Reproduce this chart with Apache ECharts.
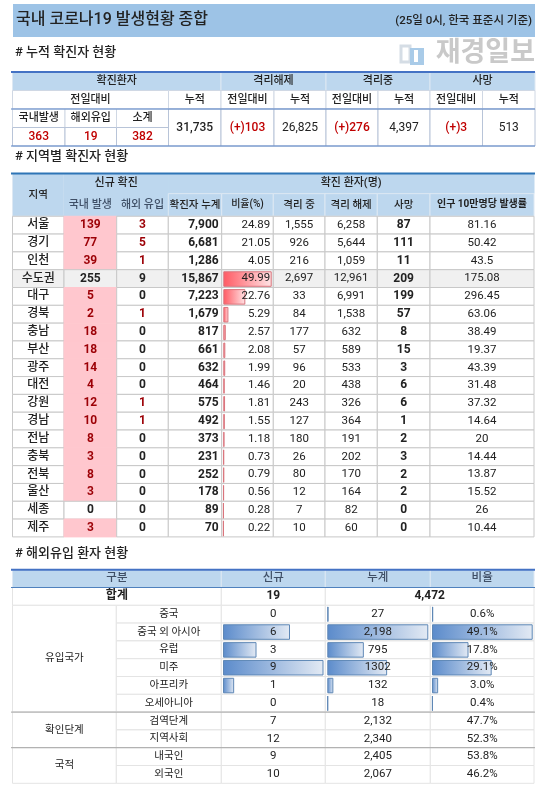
<!DOCTYPE html>
<html>
<head>
<meta charset="utf-8">
<style>html,body{margin:0;padding:0;background:#fff}#main{width:548px;height:789px}</style>
<script src="https://cdn.jsdelivr.net/npm/echarts@6/dist/echarts.min.js"></script>
</head>
<body>
<div id="main"></div>
<script>
// 누적 확진자
var sumHeader = ['확진환자', '격리해제', '격리중', '사망'];
var sumLocal = 363, sumImport = 19, sumSubtotal = 382;
var sumTotal = '31,735';
var sumChange = ['(+)103', '(+)276', '(+)3'];
var sumCumul = ['26,825', '4,397', '513'];

// 지역별
var regions = ['서울','경기','인천','수도권','대구','경북','충남','부산','광주','대전','강원','경남','전남','충북','전북','울산','세종','제주'];
var localCases = [139,77,39,255,5,2,18,18,14,4,12,10,8,3,8,3,0,3];
var importCases = [3,5,1,9,0,1,0,0,0,0,1,1,0,0,0,0,0,0];
var totalCases = ['7,900','6,681','1,286','15,867','7,223','1,679','817','661','632','464','575','492','373','231','252','178','89','70'];
var ratios = [24.89,21.05,4.05,49.99,22.76,5.29,2.57,2.08,1.99,1.46,1.81,1.55,1.18,0.73,0.79,0.56,0.28,0.22];
var isolating = ['1,555','926','216','2,697','33','84','177','57','96','20','243','127','180','26','80','12','7','10'];
var released = ['6,258','5,644','1,059','12,961','6,991','1,538','632','589','533','438','326','364','191','202','170','164','82','60'];
var deaths = [87,111,11,209,199,57,8,15,3,6,6,1,2,3,2,2,0,0];
var per100k = ['81.16','50.42','43.5','175.08','296.45','63.06','38.49','19.37','43.39','31.48','37.32','14.64','20','14.44','13.87','15.52','26','10.44'];
// 서울, 경기, 인천 행에는 막대가 없다
var ratioBarRegions = regions.slice(3);

// 해외유입
var abroadGroups = ['중국','중국 외 아시아','유럽','미주','아프리카','오세아니아','검역단계','지역사회','내국인','외국인'];
var abroadNew = [0,6,3,9,1,0,7,12,9,10];
var abroadCumul = [27,2198,795,1302,132,18,2132,2340,2405,2067];
var abroadCumulLabels = ['27','2,198','795','1302','132','18','2,132','2,340','2,405','2,067'];
var abroadShare = [0.6,49.1,17.8,29.1,3.0,0.4,47.7,52.3,53.8,46.2];

var FONT = 'Roboto, "Noto Sans CJK KR", sans-serif';
var HEAD_FILL = '#BDD7EE', INK = '#222222', RED = '#C00000', DARK_RED = '#9C0006';

var option = {
  backgroundColor: '#fff', animation: false,
  title: [], grid: [], xAxis: [], yAxis: [], series: [], graphic: []
};

function heading(text, x, y, size, weight, color) {
  option.title.push({
    text: text, left: x, top: y, padding: 0,
    textStyle: { fontFamily: FONT, fontSize: size, fontWeight: weight, color: color || INK, lineHeight: size + 2 }
  });
}

// 표 하나 = grid 하나 (x는 페이지 px, y는 행 번호)
function addTable(top, height, yMin, yMax, cells, rules) {
  var g = option.grid.length;
  option.grid.push({ left: 0, width: 548, top: top, height: height });
  option.xAxis.push({ gridIndex: g, type: 'value', min: 0, max: 548, show: false });
  option.yAxis.push({ gridIndex: g, type: 'value', min: yMin, max: yMax, inverse: true, show: false });

  option.series.push({
    type: 'custom', xAxisIndex: g, yAxisIndex: g, z: 1, silent: true, clip: false,
    data: cells.map(function (c) { return [c[0], c[1], c[2], c[3]]; }),
    renderItem: function (params, api) {
      var c = cells[params.dataIndex], o = c[5] || {};
      var a = api.coord([api.value(0), api.value(2)]), b = api.coord([api.value(1), api.value(3)]);
      return {
        type: 'rect',
        shape: { x: a[0], y: a[1], width: b[0] - a[0], height: b[1] - a[1] },
        style: { fill: o.fill || '#fff', stroke: o.stroke || '#C8C8C8', lineWidth: 1 }
      };
    }
  });
  option.series.push({
    type: 'custom', xAxisIndex: g, yAxisIndex: g, z: 2, silent: true, clip: false,
    data: rules,
    renderItem: function (params, api) {
      var r = rules[params.dataIndex];
      var a = api.coord([api.value(0), api.value(2)]), b = api.coord([api.value(1), api.value(2)]);
      return {
        type: 'line',
        shape: { x1: a[0], y1: a[1], x2: b[0], y2: b[1] },
        style: { stroke: r[3], lineWidth: r[4] }
      };
    }
  });
  option.series.push({
    type: 'custom', xAxisIndex: g, yAxisIndex: g, z: 5, silent: true, clip: false,
    data: cells.map(function (c) { return [c[0], c[1], c[2], c[3]]; }),
    renderItem: function (params, api) {
      var c = cells[params.dataIndex], o = c[5] || {};
      var a = api.coord([api.value(0), api.value(2)]), b = api.coord([api.value(1), api.value(3)]);
      var right = o.align === 'right';
      return {
        type: 'text',
        style: {
          text: String(c[4]),
          x: right ? b[0] - 3 : (a[0] + b[0]) / 2,
          y: (a[1] + b[1]) / 2,
          align: right ? 'right' : 'center', verticalAlign: 'middle',
          fontFamily: FONT, fontSize: o.size || 12, fontWeight: o.weight || 'normal',
          fill: o.color || INK
        }
      };
    }
  });
}

// 셀 안의 데이터 막대
function addBars(left, width, top, height, cats, values, max, colors, border) {
  var g = option.grid.length;
  option.grid.push({ left: left, width: width, top: top, height: height });
  option.xAxis.push({ gridIndex: g, type: 'value', min: 0, max: max, show: false });
  option.yAxis.push({ gridIndex: g, type: 'category', data: cats, inverse: true, show: false });
  option.series.push({
    type: 'bar', xAxisIndex: g, yAxisIndex: g, z: 3, silent: true, data: values,
    barCategoryGap: '13%',
    itemStyle: {
      color: { type: 'linear', x: 0, y: 0, x2: 1, y2: 0, colorStops: [
        { offset: 0, color: colors[0] }, { offset: 1, color: colors[1] }
      ] },
      borderColor: border, borderWidth: 1
    }
  });
}

// ---- 제목
option.graphic.push({ type: 'rect', z: 0, shape: { x: 13, y: 4, width: 522, height: 33 }, style: { fill: '#9DC3E6' } });
heading('국내 코로나19 발생현황 종합', 16, 11, 16, 500);
option.graphic.push({ type: 'text', z: 1, style: { text: '(25일 0시, 한국 표준시 기준)', x: 532, y: 21, align: 'right', verticalAlign: 'middle', fontFamily: FONT, fontSize: 11.5, fill: INK, fontWeight: 500 } });
heading('# 누적 확진자 현황', 15, 45, 13, 500);
heading('# 지역별 확진자 현황', 15, 149, 13, 500);
heading('# 해외유입 환자 현황', 15, 546, 13, 500);

// 워터마크
option.graphic.push(
  { type: 'rect', z: 0, shape: { x: 401, y: 46, width: 9, height: 16 }, style: { fill: 'none', stroke: '#D5DDE5', lineWidth: 3 } },
  { type: 'rect', z: 0, shape: { x: 410, y: 48, width: 14, height: 17 }, style: { fill: '#A9CBE8' } },
  { type: 'rect', z: 0, shape: { x: 414, y: 50, width: 4, height: 12 }, style: { fill: '#fff' } },
  { type: 'text', z: 0, style: { text: '재경일보', x: 535, y: 54, align: 'right', verticalAlign: 'middle', fontFamily: FONT, fontSize: 27, fontWeight: 'bold', fill: '#C9C9C9' } }
);

// ---- 표 1
var X1 = [12.5, 65, 116.5, 168.5, 221, 274, 326, 378, 430, 482.5, 535];
var hSep = '#DDE8F3';
var head1 = { fill: HEAD_FILL, stroke: hSep, size: 11, weight: 500 };
var sub1 = { size: 11, stroke: '#D0D8E4', weight: 500 };
var val1 = { size: 12, color: RED, weight: 500, stroke: '#B8C4D8' };
var cells1 = [
  [X1[0], X1[4], 0, 1, sumHeader[0], head1], [X1[4], X1[6], 0, 1, sumHeader[1], head1],
  [X1[6], X1[8], 0, 1, sumHeader[2], head1], [X1[8], X1[10], 0, 1, sumHeader[3], head1],
  [X1[0], X1[3], 1, 2, '전일대비', sub1], [X1[3], X1[4], 1, 2, '누적', sub1],
  [X1[4], X1[5], 1, 2, '전일대비', sub1], [X1[5], X1[6], 1, 2, '누적', sub1],
  [X1[6], X1[7], 1, 2, '전일대비', sub1], [X1[7], X1[8], 1, 2, '누적', sub1],
  [X1[8], X1[9], 1, 2, '전일대비', sub1], [X1[9], X1[10], 1, 2, '누적', sub1],
  [X1[0], X1[1], 2, 3, '국내발생', sub1], [X1[1], X1[2], 2, 3, '해외유입', sub1], [X1[2], X1[3], 2, 3, '소계', sub1],
  [X1[0], X1[1], 3, 4, sumLocal, val1], [X1[1], X1[2], 3, 4, sumImport, val1], [X1[2], X1[3], 3, 4, sumSubtotal, val1],
  [X1[3], X1[4], 2, 4, sumTotal, { size: 12, weight: 500, stroke: '#B8C4D8' }]
];
[0, 1, 2].forEach(function (i) {
  var k = 4 + i * 2;
  cells1.push([X1[k], X1[k + 1], 2, 4, sumChange[i], val1]);
  cells1.push([X1[k + 1], X1[k + 2], 2, 4, sumCumul[i], { size: 12, stroke: '#B8C4D8' }]);
});
addTable(72, 74, 0, 4, cells1, [
  [11, 535, 0, '#4472C4', 2], [11, 535, 2, '#5B85C8', 1], [11, 535, 4, '#5B85C8', 1]
]);

// ---- 표 2 (y: 헤더는 음수 구간, 데이터는 0~18)
var X2 = [12.5, 64, 116.7, 168.3, 221.7, 273.3, 325, 377.3, 430, 534];
var R2a = -2.4, R2b = -1.27;
var head2 = { fill: HEAD_FILL, stroke: hSep, size: 10.5, weight: 500 };
var head2red = { fill: HEAD_FILL, stroke: HEAD_FILL, size: 11, color: '#3F4F66', weight: 500 };
var cells2 = [
  [X2[0], X2[1], R2a, 0, '지역', head2],
  [X2[1], X2[3], R2a, R2b, '신규 확진', { fill: HEAD_FILL, stroke: HEAD_FILL, size: 11, weight: 500 }],
  [X2[3], X2[9], R2a, R2b, '확진 환자(명)', { fill: HEAD_FILL, stroke: HEAD_FILL, size: 11, weight: 500 }],
  [X2[1], X2[2], R2b, 0, '국내 발생', head2red], [X2[2], X2[3], R2b, 0, '해외 유입', head2red],
  [X2[3], X2[4], R2b, 0, '확진자 누계', head2], [X2[4], X2[5], R2b, 0, '비율(%)', { fill: HEAD_FILL, stroke: hSep, size: 10, weight: 500 }],
  [X2[5], X2[6], R2b, 0, '격리 중', head2], [X2[6], X2[7], R2b, 0, '격리 해제', head2],
  [X2[7], X2[8], R2b, 0, '사망', head2], [X2[8], X2[9], R2b, 0, '인구 10만명당 발생률', { fill: HEAD_FILL, stroke: hSep, size: 10, weight: 'bold' }]
];
regions.forEach(function (name, i) {
  var hub = name === '수도권';
  var bg = hub ? '#F0F0F0' : '#fff';
  var y0 = i, y1 = i + 1;
  var pink = !hub && localCases[i] > 0;
  cells2.push(
    [X2[0], X2[1], y0, y1, name, { fill: bg, size: 12, weight: 500 }],
    [X2[1], X2[2], y0, y1, localCases[i], { fill: pink ? '#FFC7CE' : bg, stroke: pink ? '#FFC7CE' : '#C8C8C8', size: 12, weight: 'bold', color: pink ? DARK_RED : INK }],
    [X2[2], X2[3], y0, y1, importCases[i], { fill: bg, size: 12, weight: 'bold', color: importCases[i] > 0 && !hub ? DARK_RED : INK }],
    [X2[3], X2[4], y0, y1, totalCases[i], { fill: bg, size: 12, weight: 'bold', align: 'right' }],
    [X2[4], X2[5], y0, y1, ratios[i].toFixed(2), { fill: bg, size: 11.5, align: 'right' }],
    [X2[5], X2[6], y0, y1, isolating[i], { fill: bg, size: 11.5 }],
    [X2[6], X2[7], y0, y1, released[i], { fill: bg, size: 11.5 }],
    [X2[7], X2[8], y0, y1, deaths[i], { fill: bg, size: 12, weight: 'bold' }],
    [X2[8], X2[9], y0, y1, per100k[i], { fill: bg, size: 11.5 }]
  );
});
addTable(173.5, 363.4, R2a, 18, cells2, [[11, 535, R2a, '#2E75B6', 2]]);
addBars(223.3, 48.4, 216.7 + 3 * 320.7 / 18, 320.7 * 15 / 18, ratioBarRegions, ratios.slice(3), 49.99, ['#FF5A63', '#FFE4E6'], '#D9747C');

// ---- 표 3
var X3 = [12.5, 116.3, 221.3, 325.3, 430.3, 534];
var head3 = { fill: HEAD_FILL, stroke: hSep, size: 11.5, color: '#3F4F66', weight: 500 };
var c3 = '#E4E4E4';
var plain3 = { stroke: c3, size: 11.5 };
var cells3 = [
  [X3[0], X3[2], -1, 0, '구분', head3], [X3[2], X3[3], -1, 0, '신규', head3],
  [X3[3], X3[4], -1, 0, '누계', head3], [X3[4], X3[5], -1, 0, '비율', head3],
  [X3[0], X3[2], 0, 1, '합계', { stroke: c3, size: 12, weight: 'bold' }],
  [X3[2], X3[3], 0, 1, 19, { stroke: c3, size: 12, weight: 'bold' }],
  [X3[3], X3[5], 0, 1, '4,472', { stroke: c3, size: 12, weight: 'bold' }],
  [X3[0], X3[1], 1, 7, '유입국가', { stroke: c3, size: 10.5 }],
  [X3[0], X3[1], 7, 9, '확인단계', { stroke: c3, size: 10.5 }],
  [X3[0], X3[1], 9, 11, '국적', { stroke: c3, size: 10.5 }]
];
abroadGroups.forEach(function (name, i) {
  cells3.push(
    [X3[1], X3[2], i + 1, i + 2, name, { stroke: c3, size: 10.5 }],
    [X3[2], X3[3], i + 1, i + 2, abroadNew[i], plain3],
    [X3[3], X3[4], i + 1, i + 2, abroadCumulLabels[i], plain3],
    [X3[4], X3[5], i + 1, i + 2, abroadShare[i].toFixed(1) + '%', plain3]
  );
});
addTable(569.7, 213.6, -1, 11, cells3, [
  [11, 535, -1, '#4472C4', 2], [11, 535, 0, '#4F81BD', 1],
  [11, 535, 7, '#A6A6A6', 1], [11, 535, 9, '#A6A6A6', 1]
]);
var barCats = abroadGroups.slice(0, 6);
var blue = ['#5B8BCB', '#E3EAF4'];
addBars(223, 100.5, 605.3, 107, barCats, abroadNew.slice(0, 6).map(function (v) { return v || null; }), 9, blue, '#5E87B5');
addBars(327.3, 101, 605.3, 107, barCats, abroadCumul.slice(0, 6), 2198, blue, '#5E87B5');
addBars(432, 100.7, 605.3, 107, barCats, abroadShare.slice(0, 6), 49.1, blue, '#5E87B5');

var chart = echarts.init(document.getElementById('main'));
chart.setOption(option);
</script>
</body>
</html>
